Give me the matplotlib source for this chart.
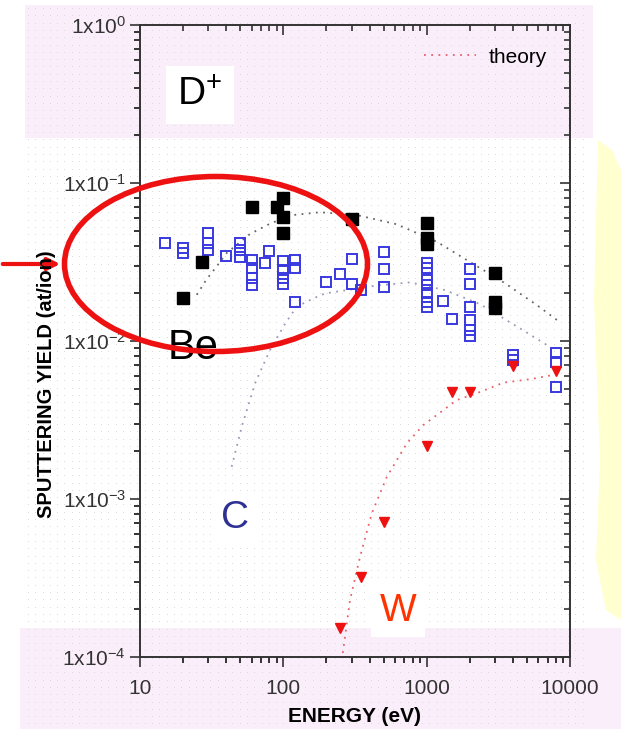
import numpy as np
import matplotlib
matplotlib.use("Agg")
import matplotlib.pyplot as plt
from matplotlib.patches import Ellipse, Rectangle, Polygon
from matplotlib.markers import TICKLEFT, TICKDOWN
from matplotlib.ticker import NullFormatter

plt.rcParams['font.family'] = ['Liberation Sans', 'DejaVu Sans']
plt.rcParams['mathtext.default'] = 'regular'

# measured yields, D+ on Be (filled squares)
be_energy = [20, 27, 60, 90, 100, 100, 100, 300, 1000, 1000, 1000, 3000, 3000, 3000]
be_yield = [0.0187, 0.0316, 0.0705, 0.071, 0.080, 0.061, 0.048, 0.059,
            0.056, 0.045, 0.041, 0.027, 0.0177, 0.0162]

# measured yields, D+ on C (open squares)
c_energy = [15, 20, 20, 30, 30, 30, 40, 50, 50, 50, 60, 60, 60, 60, 75, 80,
            100, 100, 100, 100, 120, 120, 120, 200, 250, 300, 300, 350,
            500, 500, 500, 1000, 1000, 1000, 1000, 1000, 1000, 1000,
            1300, 1500, 2000, 2000, 2000, 2000, 2000, 2000,
            4000, 4000, 8000, 8000, 8000]
c_yield = [0.042, 0.039, 0.036, 0.048, 0.042, 0.0375, 0.0345, 0.042, 0.0375, 0.034,
           0.0326, 0.029, 0.025, 0.0226, 0.031, 0.0373,
           0.032, 0.028, 0.025, 0.023, 0.0326, 0.029, 0.0177, 0.0237, 0.0265,
           0.0329, 0.0228, 0.021, 0.0367, 0.0284, 0.0221,
           0.031, 0.029, 0.0245, 0.0225, 0.020, 0.0177, 0.0165,
           0.018, 0.0137, 0.0284, 0.023, 0.0163, 0.0136, 0.0118, 0.0108,
           0.00815, 0.0076, 0.0084, 0.0074, 0.00514]

# measured yields, D+ on W (down triangles)
w_energy = [250, 350, 500, 1000, 1500, 2000, 4000, 8000]
w_yield = [0.000153, 0.00032, 0.000715, 0.00217, 0.00476, 0.00476, 0.00695, 0.00646]

# theory curves
be_th_energy = [24.9, 28.9, 33.9, 40.3, 58.6, 81.7, 117, 180, 325, 618, 1175, 3520, 5860, 8090]
be_th_yield = [0.0196, 0.0243, 0.0293, 0.0361, 0.0476, 0.0556, 0.0627, 0.0653,
               0.0627, 0.0548, 0.0425, 0.0232, 0.0169, 0.0136]
c_th_energy = [43.6, 51.3, 63.5, 80.7, 103, 124, 162, 195, 460, 766, 1343, 2360, 4490, 6890]
c_th_yield = [0.0016, 0.00287, 0.0054, 0.00877, 0.0129, 0.0165, 0.0186, 0.020,
              0.0225, 0.0235, 0.021, 0.0171, 0.0120, 0.00944]
w_th_energy = [260, 292, 343, 414, 527, 727, 949, 1623, 2238, 3430, 5270, 7660]
w_th_yield = [0.000106, 0.00023, 0.000431, 0.00081, 0.00138, 0.00225, 0.00294,
              0.00423, 0.00467, 0.00545, 0.00573, 0.0061]

y_ticks = [1e-4, 1e-3, 1e-2, 1e-1, 1e0]
y_ticklabels = ['1x10$^{-4}$', '1x10$^{-3}$', '1x10$^{-2}$', '1x10$^{-1}$', '1x10$^{0}$']
x_ticks = [10, 100, 1000, 10000]
x_ticklabels = ['10', '100', '1000', '10000']

W, H = 621, 729
fig = plt.figure(figsize=(W / 100, H / 100), dpi=100)


def fx(px):
    return px / W


def fy(py):
    return 1 - py / H


def minor_positions(majors):
    return [m * k for m in majors[:-1] for k in range(2, 10)]


# slide background: pink bands, dot texture, yellow shape on the right
bg = fig.add_axes([0, 0, 1, 1], zorder=-10)
bg.set_xlim(0, W)
bg.set_ylim(H, 0)
bg.axis('off')
bg.add_patch(Rectangle((25, 5), 568, 133, color='#fbeefb', lw=0))
bg.add_patch(Rectangle((20, 628), 601, 101, color='#fbeefb', lw=0))
bg.add_patch(Polygon([(598, 140), (612, 150), (621, 170), (621, 620), (606, 610),
                      (596, 560), (600, 460), (594, 300)], closed=True,
                     color='#ffffd0', lw=0))
gx, gy = np.meshgrid(np.arange(28, 590, 7.3), np.arange(8, 729, 7.3))
bg.plot(gx.ravel(), gy.ravel(), ls='none', marker='s', ms=0.6, mew=0, color='#d8d8d8')

ax = fig.add_axes([fx(140), fy(657), fx(570) - fx(140), fy(25) - fy(657)])
ax.patch.set_alpha(0)
ax.set_xscale('log')
ax.set_yscale('log')
ax.set_xlim(10, 10000)
ax.set_ylim(1e-4, 1)

th_be, = ax.plot(be_th_energy, be_th_yield, ls=(0, (1, 3)), lw=1.3, color='#666666')
th_c, = ax.plot(c_th_energy, c_th_yield, ls=(0, (1, 3)), lw=1.3, color='#9a9ab8')
th_w, = ax.plot(w_th_energy, w_th_yield, ls=(0, (1, 3)), lw=1.3, color='#e8606a')

ax.plot(c_energy, c_yield, ls='none', marker='s', ms=7, mfc='none', mec='#3838e0', mew=1.4)
ax.plot(be_energy, be_yield, ls='none', marker='s', ms=8, color='black')
ax.plot(w_energy, w_yield, ls='none', marker='v', ms=7, color='#ee1111')

ax.set_xticks(x_ticks)
ax.set_xticklabels(x_ticklabels)
ax.set_yticks(y_ticks)
ax.set_yticklabels(y_ticklabels)
ax.set_xticks(minor_positions(x_ticks), minor=True)
ax.set_yticks(minor_positions(y_ticks), minor=True)
ax.xaxis.set_minor_formatter(NullFormatter())
ax.yaxis.set_minor_formatter(NullFormatter())
ax.tick_params(which='both', direction='out', labelsize=15, labelcolor='#333333',
               width=1.2, color='#333333')
ax.tick_params(which='major', length=7)
ax.tick_params(which='minor', length=4)
ax.tick_params(axis='x', which='major', pad=9)
ax.tick_params(axis='y', which='major', pad=3)
for s in ax.spines.values():
    s.set_linewidth(1.4)
    s.set_color('#333333')

# minor tick marks on all four sides: out on left/bottom, in on top/right
x_minor = minor_positions(x_ticks)
y_minor = minor_positions(y_ticks)
tick_style = dict(ls='none', ms=4, mew=1.2, color='#333333', clip_on=False)
ax.plot([0] * len(y_minor), y_minor, transform=ax.get_yaxis_transform(),
        marker=TICKLEFT, **tick_style)
ax.plot([1] * len(y_minor), y_minor, transform=ax.get_yaxis_transform(),
        marker=TICKLEFT, **tick_style)
ax.plot(x_minor, [0] * len(x_minor), transform=ax.get_xaxis_transform(),
        marker=TICKDOWN, **tick_style)
ax.plot(x_minor, [1] * len(x_minor), transform=ax.get_xaxis_transform(),
        marker=TICKDOWN, **tick_style)

# major tick marks on top and right, pointing inward
major_style = dict(ls='none', ms=7, mew=1.2, color='#333333', clip_on=False)
ax.plot([1] * len(y_ticks), y_ticks, transform=ax.get_yaxis_transform(),
        marker=TICKLEFT, **major_style)
ax.plot(x_ticks, [1] * len(x_ticks), transform=ax.get_xaxis_transform(),
        marker=TICKDOWN, **major_style)

ax.set_xlabel('ENERGY (eV)', fontsize=15, fontweight='bold', labelpad=6)
fig.text(fx(47), fy(384), 'SPUTTERING YIELD (at/ion)', rotation=90, fontsize=14.5,
         fontweight='bold', ha='center', va='center')

ax.legend([th_w], ['theory'], loc='center right', frameon=False, fontsize=15,
          handlelength=2.5, handletextpad=0.6, borderaxespad=0,
          bbox_to_anchor=(0.966, 0.949))

# species labels
fig.text(fx(200), fy(95), 'D$^{+}$', fontsize=28, ha='center', va='center',
         bbox=dict(facecolor='white', edgecolor='none', pad=8))
fig.text(fx(193), fy(348), 'Be', fontsize=30, ha='center', va='center')
fig.text(fx(235), fy(518), 'C', fontsize=28, color='#2e3192', ha='center', va='center',
         bbox=dict(facecolor='white', edgecolor='none', pad=6))
fig.text(fx(398), fy(611), 'W', fontsize=28, color='#ff3300', ha='center', va='center',
         bbox=dict(facecolor='white', edgecolor='none', pad=6))

# highlight around the Be data
fig.patches.append(Ellipse((fx(216), fy(264)), fx(303), fy(0) - fy(175),
                           transform=fig.transFigure, fill=False, edgecolor='#ee1111',
                           lw=4, zorder=5))
ax.annotate('', xy=(fx(63), fy(264)), xytext=(0, fy(264)),
            xycoords='figure fraction', textcoords='figure fraction',
            arrowprops=dict(arrowstyle='-|>', color='#ee1111', lw=3, mutation_scale=18))

fig.savefig('out.png', dpi=100)
